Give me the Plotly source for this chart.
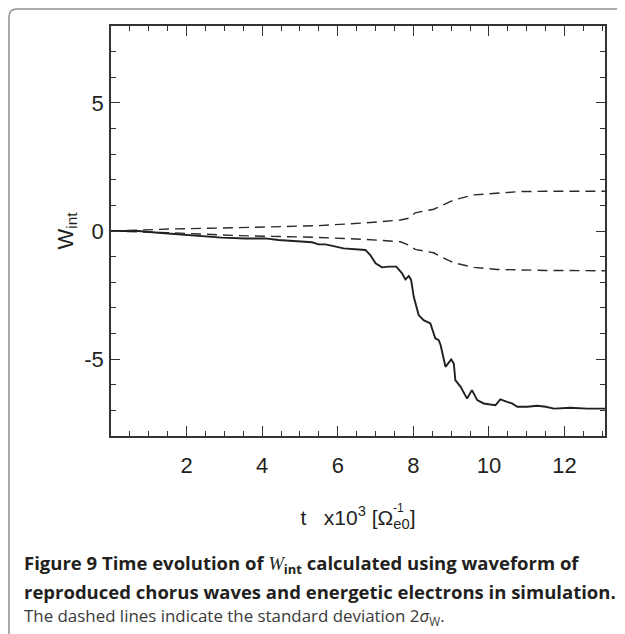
import plotly.graph_objects as go

# ---- data (t in units of 10^3 / Omega_e0) ----
t_solid = [0, 0.72, 1.25, 1.87, 2.40, 2.93, 3.55, 4.08, 4.43, 4.96, 5.32, 5.49, 5.67,
           5.89, 6.15, 6.73, 6.86, 7.00, 7.17, 7.35, 7.55, 7.70, 7.79, 7.88, 7.94, 8.01,
           8.14, 8.27, 8.45, 8.58, 8.67, 8.72, 8.85, 9.00, 9.07, 9.11, 9.25, 9.42, 9.55,
           9.69, 9.86, 10.17, 10.30, 10.48, 10.61, 10.75, 11.01, 11.28, 11.50, 11.72,
           12.16, 12.60, 13.07]
w_int = [0, 0, -0.07, -0.13, -0.20, -0.26, -0.29, -0.29, -0.35, -0.42, -0.44, -0.52, -0.52,
         -0.59, -0.68, -0.74, -0.94, -1.26, -1.42, -1.39, -1.39, -1.65, -1.89, -1.76, -1.91,
         -2.57, -3.28, -3.48, -3.61, -4.19, -4.26, -4.45, -5.30, -5.01, -5.17, -5.82, -6.08,
         -6.54, -6.21, -6.60, -6.73, -6.80, -6.57, -6.67, -6.73, -6.86, -6.86, -6.82, -6.86,
         -6.93, -6.90, -6.93, -6.93]

t_sigma = [0, 1.61, 3.37, 5.49, 6.77, 7.66, 7.88, 8.05, 8.54, 8.72, 9.07, 9.60, 10.22,
           10.84, 11.50, 13.07]
sigma_up = [0, 0.08, 0.13, 0.21, 0.32, 0.43, 0.50, 0.71, 0.85, 0.98, 1.21, 1.41, 1.47,
            1.54, 1.55, 1.55]
sigma_dn = [0, -0.07, -0.18, -0.25, -0.33, -0.42, -0.55, -0.72, -0.85, -1.00, -1.24,
            -1.42, -1.50, -1.52, -1.54, -1.55]

x_ticks = [2, 4, 6, 8, 10, 12]
x_labels = ["2", "4", "6", "8", "10", "12"]
y_ticks = [-5, 0, 5]
y_labels = ["-5", "0", "5"]

INK = "#231f20"
fig = go.Figure()
for s in (sigma_up, sigma_dn):
    fig.add_trace(go.Scatter(x=t_sigma, y=s, mode="lines",
                             line=dict(color="#2a2a2a", width=1.4, dash="10px,6px"),
                             showlegend=False))
fig.add_trace(go.Scatter(x=t_solid, y=w_int, mode="lines",
                         line=dict(color=INK, width=1.9), showlegend=False))

tickfont = dict(family="Liberation Sans, Arial", size=22, color=INK)
fig.update_xaxes(range=[0, 13.07], tickmode="array", tickvals=x_ticks, ticktext=x_labels,
                 ticks="inside", ticklen=10, tickwidth=1.3, tickcolor="#333",
                 minor=dict(tickmode="linear", tick0=0, dtick=0.5, ticks="inside",
                            ticklen=5, tickwidth=1.3, tickcolor="#333"),
                 showline=True, linecolor="#333", linewidth=1.6, mirror="allticks",
                 showgrid=False, zeroline=False, tickfont=tickfont, ticklabelstandoff=9,
                 title=dict(text="t   x10<sup>3</sup> [Ω<sub>e0</sub>]",
                            font=dict(family="Liberation Sans, Arial", size=21, color=INK),
                            standoff=33))
fig.update_yaxes(range=[-8, 8], tickmode="array", tickvals=y_ticks, ticktext=y_labels,
                 ticks="inside", ticklen=9, tickwidth=1.3, tickcolor="#333",
                 minor=dict(tickmode="linear", tick0=0, dtick=1, ticks="inside",
                            ticklen=5, tickwidth=1.3, tickcolor="#333"),
                 showline=True, linecolor="#333", linewidth=1.6, mirror="allticks",
                 showgrid=False, zeroline=False, tickfont=tickfont, ticklabelstandoff=1,
                 title=dict(text="W<sub>int</sub>",
                            font=dict(family="Liberation Sans, Arial", size=22, color=INK),
                            standoff=5))

# page renders with an 8px body offset; work in reference pixels and compensate
OFF = 8
L, R, T, B = 111, 605, 26, 436
W, H = R - L, B - T
def px(x): return (x - L) / W
def py(y): return (B - y) / H
F, r = 9, 8  # frame edge (page px) and corner radius
path = (f"M {px(F)},{py(660)} L {px(F)},{py(F + r)} "
        f"Q {px(F)},{py(F)} {px(F + r)},{py(F)} L {px(660)},{py(F)}")
fig.add_shape(type="path", path=path, xref="paper", yref="paper",
              line=dict(color="#8f8f8f", width=1.5))

# stacked superscript of the x-axis unit
fig.add_annotation(text="-1", x=px(398), y=py(508), xref="paper", yref="paper",
                   xanchor="center", yanchor="middle", showarrow=False,
                   font=dict(family="Liberation Sans, Arial", size=12, color=INK))

bold_font = dict(family="Open Sans, Noto Sans", size=18.5, color=INK)
fig.add_annotation(
    text="<b>Figure 9 Time evolution of </b><span style='font-family:Liberation Serif, Times New Roman'><i>W</i></span><b><sub>int</sub> calculated using waveform of</b>",
    x=px(22), y=py(564), xref="paper", yref="paper", xanchor="left", yanchor="middle",
    showarrow=False, font=bold_font, align="left")
fig.add_annotation(
    text="<b>reproduced chorus waves and energetic electrons in simulation.</b>",
    x=px(22), y=py(591), xref="paper", yref="paper", xanchor="left", yanchor="middle",
    showarrow=False, font=bold_font, align="left")
fig.add_annotation(
    text="The dashed lines indicate the standard deviation 2<i>σ</i><sub>W</sub>.",
    x=px(22), y=py(616), xref="paper", yref="paper", xanchor="left", yanchor="middle",
    showarrow=False, font=dict(family="Open Sans, Noto Sans", size=16.9, color="#3a3a3a"),
    align="left")

fig.update_layout(width=625, height=634,
                  margin=dict(l=L - OFF, r=625 - R + OFF, t=T - OFF, b=634 - B + OFF),
                  paper_bgcolor="white", plot_bgcolor="white")
fig.write_html("out.html")
